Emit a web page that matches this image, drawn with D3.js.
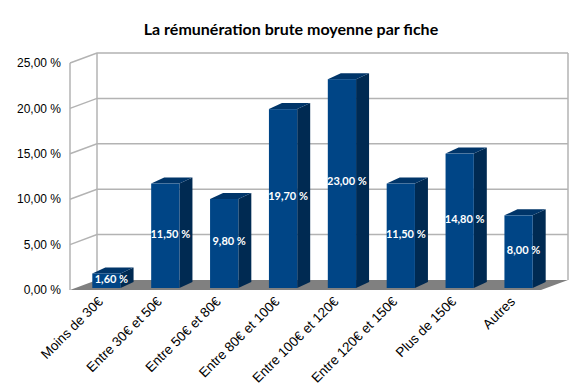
<!DOCTYPE html>
<html>
<head>
<meta charset="utf-8">
<script src="https://d3js.org/d3.v7.min.js"></script>
<style>
  body { margin: 0; background: #fff; }
</style>
</head>
<body>
<div id="chart"></div>
<script>

var width = 584;
var height = 391;

// data
var categories = ["Moins de 30€", "Entre 30€ et 50€", "Entre 50€ et 80€", "Entre 80€ et 100€",
                  "Entre 100€ et 120€", "Entre 120€ et 150€", "Plus de 150€", "Autres"];
var values = [1.6, 11.5, 9.8, 19.7, 23.0, 11.5, 14.8, 8.0];
var yTicks = [0, 5, 10, 15, 20, 25];

// 3d wall offsets
var wallDx = 27, wallDy = 10;
var barDx = 13, barDy = 6;

var svg = d3.select("#chart")
	.append("svg")
	.attr("width", width)
	.attr("height", height);

var yScale = d3.scaleLinear()
	.domain([0, 25])
	.range([290, 63]);

var floorLeft = 70, floorRight = 541;

var xScale = d3.scaleBand()
	.domain(categories)
	.range([floorLeft + 7, floorRight + 7])
	.paddingInner(0.52)
	.paddingOuter(0.26);

var fmt = function(v) { return d3.format(".2f")(v).replace(".", ",") + " %"; };

// floor
svg.append("path")
	.attr("d", "M" + floorLeft + "," + yScale(0) + "L" + floorRight + "," + yScale(0) +
		"L" + (floorRight + wallDx) + "," + (yScale(0) - wallDy) +
		"L" + (floorLeft + wallDx) + "," + (yScale(0) - wallDy) + "Z")
	.attr("fill", "#808080");

// walls outline
var gridColor = "#b3b3b3";
var walls = svg.append("g")
	.attr("stroke", gridColor)
	.attr("stroke-width", 1.5)
	.attr("fill", "none");

walls.append("line")
	.attr("x1", floorLeft).attr("x2", floorLeft)
	.attr("y1", yScale(0)).attr("y2", yScale(25));
walls.append("line")
	.attr("x1", floorLeft + wallDx).attr("x2", floorLeft + wallDx)
	.attr("y1", yScale(0) - wallDy).attr("y2", yScale(25) - wallDy);
walls.append("line")
	.attr("x1", floorRight + wallDx).attr("x2", floorRight + wallDx)
	.attr("y1", yScale(0) - wallDy).attr("y2", yScale(25) - wallDy);

// gridlines on left wall and back wall
walls.selectAll(".grid")
	.data(yTicks.filter(function(d) { return d > 0; }))
	.enter().append("path")
	.attr("class", "grid")
	.attr("d", function(d) {
		return "M" + floorLeft + "," + yScale(d) +
			"L" + (floorLeft + wallDx) + "," + (yScale(d) - wallDy) +
			"L" + (floorRight + wallDx) + "," + (yScale(d) - wallDy);
	});

// y tick labels
svg.selectAll(".ylab")
	.data(yTicks)
	.enter().append("text")
	.attr("class", "ylab")
	.attr("x", floorLeft - 9)
	.attr("y", function(d) { return yScale(d); })
	.attr("dy", "0.35em")
	.attr("text-anchor", "end")
	.style("font-family", "Liberation Sans, Arial, sans-serif")
	.style("font-size", "12px")
	.attr("fill", "#000")
	.text(fmt);

// bars: front, side and top faces
var base = yScale(0) - 2;
var bw = xScale.bandwidth();

var bars = svg.selectAll(".bar")
	.data(values)
	.enter().append("g")
	.attr("class", "bar");

bars.append("path")
	.attr("fill", "#002a52")
	.attr("d", function(d, i) {
		var x = xScale(categories[i]) + bw, t = yScale(d) - 2;
		return "M" + x + "," + base + "L" + x + "," + t + "L" + (x + barDx) + "," + (t - barDy) +
			"L" + (x + barDx) + "," + (base - barDy) + "Z";
	});

bars.append("path")
	.attr("fill", "#003569")
	.attr("d", function(d, i) {
		var x = xScale(categories[i]), t = yScale(d) - 2;
		return "M" + x + "," + t + "L" + (x + barDx) + "," + (t - barDy) +
			"L" + (x + bw + barDx) + "," + (t - barDy) + "L" + (x + bw) + "," + t + "Z";
	});

bars.append("rect")
	.attr("fill", "#004586")
	.attr("x", function(d, i) { return xScale(categories[i]); })
	.attr("y", function(d) { return yScale(d) - 2; })
	.attr("width", bw)
	.attr("height", function(d) { return base - (yScale(d) - 2); });

// value labels
bars.append("text")
	.attr("x", function(d, i) { return xScale(categories[i]) + bw / 2 + 5; })
	.attr("y", function(d) { return (base + yScale(d) - 2) / 2 - 2; })
	.attr("dy", "0.35em")
	.attr("text-anchor", "middle")
	.style("font-family", "Lato, Open Sans, sans-serif")
	.style("font-weight", "bold")
	.style("font-size", "11px")
	.attr("fill", "#fff")
	.text(fmt);

// x labels, rotated
svg.selectAll(".xlab")
	.data(categories)
	.enter().append("text")
	.attr("class", "xlab")
	.attr("transform", function(d) {
		return "translate(" + (xScale(d) + bw / 2 - 6) + "," + 299 + ") rotate(-45)";
	})
	.attr("dy", "0.35em")
	.attr("text-anchor", "end")
	.style("font-family", "Liberation Sans, Arial, sans-serif")
	.style("font-size", "13.5px")
	.attr("fill", "#000")
	.text(function(d) { return d; });

// title
svg.append("text")
	.attr("x", 291)
	.attr("y", 35)
	.attr("text-anchor", "middle")
	.style("font-family", "Lato, Open Sans, sans-serif")
	.style("font-weight", "bold")
	.style("font-size", "16px")
	.text("La rémunération brute moyenne par fiche");

</script>
</body>
</html>
